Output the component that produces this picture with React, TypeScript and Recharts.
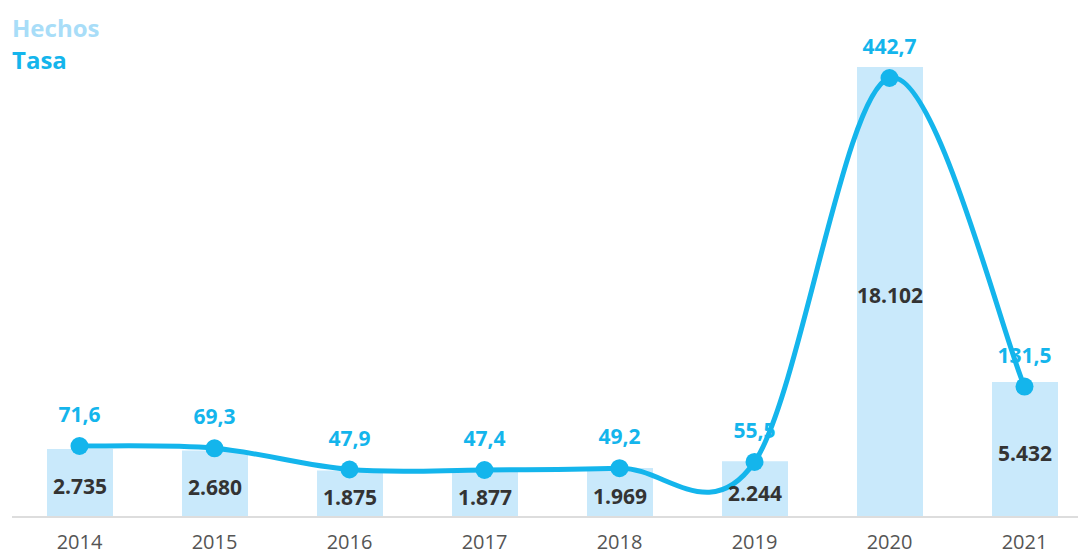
import React from 'react';
import { ComposedChart, Bar, Line, XAxis, YAxis, LabelList } from 'recharts';

const years = ['2014', '2015', '2016', '2017', '2018', '2019', '2020', '2021'];
const hechos = [2735, 2680, 1875, 1877, 1969, 2244, 18102, 5432];
const tasa = [71.6, 69.3, 47.9, 47.4, 49.2, 55.5, 442.7, 131.5];

const data = years.map((year, i) => ({ year, hechos: hechos[i], tasa: tasa[i] }));

const BAR_COLOR = '#c9e9fb';
const LINE_COLOR = '#14b5ec';
const FONT = '"Open Sans", sans-serif';

const fmtHechos = (v: number) => v.toLocaleString('de-DE');
const fmtTasa = (v: number) => v.toFixed(1).replace('.', ',');

// Catmull-Rom style curve (smoother than monotone, allows the overshoot seen in the original)
const catmullRom = (context: any) => {
  let pts: number[][] = [];
  return {
    areaStart() {},
    areaEnd() {},
    lineStart() {
      pts = [];
    },
    point(x: number, y: number) {
      pts.push([+x, +y]);
    },
    lineEnd() {
      const n = pts.length;
      if (!n) return;
      context.moveTo(pts[0][0], pts[0][1]);
      for (let i = 0; i < n - 1; i++) {
        const p0 = pts[i - 1] || pts[i];
        const p1 = pts[i];
        const p2 = pts[i + 1];
        const p3 = pts[i + 2] || p2;
        context.bezierCurveTo(
          p1[0] + (p2[0] - p0[0]) / 6,
          p1[1] + (p2[1] - p0[1]) / 6,
          p2[0] - (p3[0] - p1[0]) / 6,
          p2[1] - (p3[1] - p1[1]) / 6,
          p2[0],
          p2[1]
        );
      }
    },
  };
};

const App: React.FC = () => {
  return (
    <div style={{ position: 'fixed', left: 0, top: 0, width: 1078, height: 557, overflow: 'hidden', background: '#fff', fontFamily: FONT }}>
      <div style={{ position: 'absolute', left: 12, top: 12, zIndex: 2, fontWeight: 700, fontSize: 24, lineHeight: '32px' }}>
        <div style={{ color: '#a8ddf8' }}>Hechos</div>
        <div style={{ color: LINE_COLOR }}>Tasa</div>
      </div>
      <ComposedChart
        width={1100}
        height={557}
        data={data}
        margin={{ top: 67, right: 8, bottom: 0, left: 12 }}
        style={{ fontFamily: FONT }}
      >
        <XAxis
          dataKey="year"
          height={40}
          tickLine={false}
          axisLine={{ stroke: '#dddddd', strokeWidth: 2 }}
          tick={{ fill: '#555555', fontSize: 20 }}
          tickMargin={12}
        />
        <YAxis yAxisId="hechos" hide domain={[0, 18102]} />
        <YAxis yAxisId="tasa" hide domain={[0, 453.8]} />
        <Bar yAxisId="hechos" dataKey="hechos" fill={BAR_COLOR} barSize={66} isAnimationActive={false}>
          <LabelList
            dataKey="hechos"
            position="center"
            formatter={(v: any) => fmtHechos(Number(v))}
            style={{ fill: '#333333', fontSize: 21, fontWeight: 700 }}
            dy={4}
          />
        </Bar>
        <Line
          yAxisId="tasa"
          type={catmullRom as any}
          dataKey="tasa"
          stroke={LINE_COLOR}
          strokeWidth={5}
          dot={{ r: 9, fill: LINE_COLOR, stroke: LINE_COLOR, strokeWidth: 0 }}
          activeDot={false}
          isAnimationActive={false}
        >
          <LabelList
            dataKey="tasa"
            position="top"
            offset={24}
            formatter={(v: any) => fmtTasa(Number(v))}
            style={{ fill: LINE_COLOR, fontSize: 21, fontWeight: 700 }}
          />
        </Line>
      </ComposedChart>
    </div>
  );
};

export default App;
